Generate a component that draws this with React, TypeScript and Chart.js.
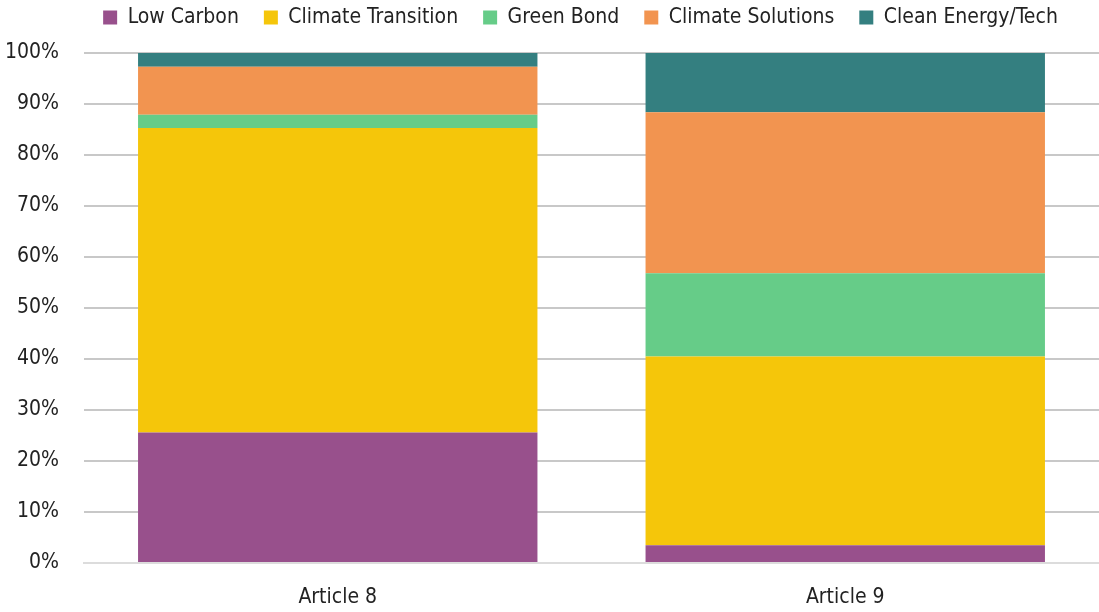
import React, { useEffect, useRef } from "react";
import { Chart, registerables } from "chart.js";

Chart.register(...registerables);

const categories = ["Article 8", "Article 9"];
const seriesNames = ["Low Carbon", "Climate Transition", "Green Bond", "Climate Solutions", "Clean Energy/Tech"];
const lowCarbon = [25.6, 3.5];
const climateTransition = [59.7, 37.0];
const greenBond = [2.6, 16.3];
const climateSolutions = [9.4, 31.6];
const cleanEnergy = [2.7, 11.6];
const colors = ["#98508C", "#F5C60A", "#66CC88", "#F29450", "#347F80"];
const yTicks = [0, 10, 20, 30, 40, 50, 60, 70, 80, 90, 100];

const FONT = "'DejaVu Sans Condensed', 'Liberation Sans Narrow', sans-serif";

const legendSpacer = {
  id: "legendSpacer",
  beforeInit(chart: any) {
    const legend = chart.legend;
    if (!legend) return;
    const origFit = legend.fit;
    legend.fit = function () {
      origFit.call(this);
      this.height += 15;
    };
    const origDraw = legend.draw;
    legend.draw = function () {
      const ctx = this.ctx;
      ctx.save();
      ctx.translate(31, 0);
      origDraw.call(this);
      ctx.restore();
    };
  },
};

export default function App() {
  const ref = useRef<HTMLCanvasElement | null>(null);
  useEffect(() => {
    document.body.style.margin = "0";
    const values = [lowCarbon, climateTransition, greenBond, climateSolutions, cleanEnergy];
    const chart = new Chart(ref.current as HTMLCanvasElement, {
      type: "bar",
      data: {
        labels: categories,
        datasets: seriesNames.map((name, i) => ({
          label: name,
          data: values[i],
          backgroundColor: colors[i],
          borderWidth: 0,
          categoryPercentage: 1,
          barPercentage: 0.787,
        })),
      },
      plugins: [legendSpacer],
      options: {
        animation: false,
        responsive: false,
        maintainAspectRatio: false,
        layout: { padding: { left: 0, right: 0, top: -18, bottom: 0 } },
        plugins: {
          tooltip: { enabled: false },
          legend: {
            position: "top",
            labels: {
              boxWidth: 14,
              boxHeight: 14,
              padding: 25,
              color: "#222",
              font: { family: FONT, size: 21 },
            },
          },
        },
        scales: {
          x: {
            stacked: true,
            grid: { display: false, drawTicks: false },
            border: { display: true, color: "#dcdcdc", width: 2 },
            ticks: { color: "#222", font: { family: FONT, size: 21 }, padding: 22 },
            afterFit: (axis: any) => {
              axis.height = 49;
            },
          },
          y: {
            stacked: true,
            min: 0,
            max: 100,
            afterBuildTicks: (axis: any) => {
              axis.ticks = yTicks.map((v) => ({ value: v }));
            },
            afterFit: (axis: any) => {
              axis.width = 84;
            },
            grid: { color: "#c8c8c8", lineWidth: 2, drawTicks: false },
            border: { display: false },
            ticks: {
              color: "#222",
              font: { family: FONT, size: 21 },
              padding: 25,
              callback: (v: any) => v + "%",
            },
          },
        },
      },
    });
    return () => chart.destroy();
  }, []);
  return (
    <div style={{ position: "absolute", left: 0, top: 0, width: 1099, height: 612 }}>
      <canvas ref={ref} width={1099} height={612} style={{ width: 1099, height: 612 }} />
    </div>
  );
}
